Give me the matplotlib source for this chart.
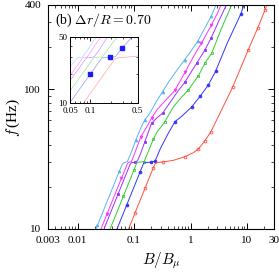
import numpy as np
import matplotlib
matplotlib.use('Agg')
import matplotlib.pyplot as plt
from matplotlib.ticker import LogLocator, NullFormatter, FixedLocator, FixedFormatter

plt.rcParams['font.family'] = 'serif'
plt.rcParams['font.serif'] = ['Liberation Serif', 'DejaVu Serif']
plt.rcParams['mathtext.fontset'] = 'cm'

# curves: B/B_mu and f (Hz)
lb_B = [0.0213, 0.0225, 0.055, 0.062, 0.066, 0.076, 0.09, 0.108, 0.13, 0.155, 0.18, 0.21, 0.25, 0.32, 0.43, 0.6, 0.79, 1.0, 1.36, 1.8, 2.35, 2.82]
lb_f = [10, 10.6, 25.9, 29.0, 29.8, 30.3, 35.5, 43.5, 52, 60.5, 65, 72, 82, 96, 116, 140, 163, 185, 222, 275, 335, 400]
lb_mk = [1, 2, 7, 9, 13, 16, 18, 20]

mag_B = [0.026, 0.033, 0.06, 0.076, 0.08, 0.09, 0.11, 0.132, 0.165, 0.204, 0.26, 0.35, 0.527, 0.8, 1.1, 1.56, 2.35, 3.0, 3.46]
mag_f = [10, 12.7, 23.1, 29.2, 30.0, 30.3, 37.5, 45.7, 53, 62, 72, 82, 98, 132, 168, 213, 288, 350, 400]
mag_mk = [1, 2, 7, 9, 12, 13, 15, 16]

pur_B = [0.0294, 0.0525, 0.085, 0.09, 0.1035, 0.115, 0.13, 0.155, 0.18, 0.204, 0.25, 0.32, 0.45, 0.6, 0.79, 1.28, 1.79, 2.3, 3.2, 4.3]
pur_f = [10, 17.9, 28.9, 29.8, 30.0, 30.8, 34.5, 42, 49.5, 57, 62, 67.3, 82, 97, 112, 153, 190, 231, 310, 400]
pur_mk = [1, 4, 7, 9, 11, 14, 15, 16, 17]

grn_B = [0.0377, 0.065, 0.1, 0.11, 0.115, 0.15, 0.18, 0.22, 0.26, 0.3, 0.351, 0.5, 0.7, 0.9, 1.37, 1.79, 2.37, 3.5, 5.35]
grn_f = [10, 17.2, 26.5, 29.2, 30.0, 30.3, 36, 44, 50, 53.5, 58.6, 75, 88, 98, 124, 153, 181, 270, 400]
grn_mk = [1, 2, 5, 7, 10, 13, 14, 15, 16]

blu_B = [0.05, 0.074, 0.099, 0.1275, 0.145, 0.15, 0.196, 0.235, 0.292, 0.4, 0.531, 0.7, 1.047, 1.49, 2.06, 2.77, 4.5, 7.82, 8.83]
blu_f = [10, 14.8, 19.8, 25.5, 29.0, 29.7, 30.1, 30.5, 37.5, 48, 58.6, 64, 74.6, 89.4, 107, 134, 215, 347, 400]
blu_mk = [1, 3, 6, 7, 10, 12, 13, 14, 15, 17]
blu_inset_mk = [2, 6, 8]

red_B = [0.08, 0.104, 0.156, 0.219, 0.235, 0.26, 0.33, 0.5, 0.8, 1.1, 1.37, 1.8, 2.3, 3.3, 5.6, 10.5, 15.4, 20.8, 22.3]
red_f = [10, 13.0, 19.5, 27.4, 29.2, 29.9, 30.2, 31.0, 32.9, 35, 37.2, 42.8, 49.7, 67, 104, 191, 273, 368, 400]
red_mk = [1, 2, 3, 6, 8, 10, 11, 12, 14, 15, 16, 17]

curves = [
    (lb_B, lb_f, lb_mk, '#55b4f5', '^', True),
    (mag_B, mag_f, mag_mk, '#ff33ff', 'v', True),
    (pur_B, pur_f, pur_mk, '#9933ff', 's', True),
    (grn_B, grn_f, grn_mk, '#33cc33', 's', False),
    (blu_B, blu_f, blu_mk, '#3333ff', 'o', True),
    (red_B, red_f, red_mk, '#ff5040', 'o', False),
]

fig = plt.figure(figsize=(2.79, 2.73), dpi=100)
ax = fig.add_axes([0.172, 0.1612, 0.810, 0.8205])

for B, f, mk, c, m, filled in curves:
    ax.plot(B, f, color=c, lw=0.7, marker=m, markevery=mk, ms=2.0,
            mfc=c if filled else 'none', mec=c, mew=0.6)

ax.set_xscale('log')
ax.set_yscale('log')
ax.set_xlim(0.003, 30)
ax.set_ylim(10, 400)
ax.xaxis.set_major_locator(FixedLocator([0.003, 0.01, 0.1, 1, 10, 30]))
ax.xaxis.set_major_formatter(FixedFormatter(['0.003', '0.01', '0.1', '1', '10', '30']))
ax.xaxis.set_minor_locator(LogLocator(base=10, subs=np.arange(2, 10), numticks=20))
ax.xaxis.set_minor_formatter(NullFormatter())
ax.yaxis.set_major_locator(FixedLocator([10, 100, 400]))
ax.yaxis.set_major_formatter(FixedFormatter(['10', '100', '400']))
ax.yaxis.set_minor_locator(LogLocator(base=10, subs=np.arange(2, 10), numticks=20))
ax.yaxis.set_minor_formatter(NullFormatter())
ax.tick_params(which='both', direction='in', top=True, right=True, labelsize=8, pad=5)
ax.tick_params(which='major', length=4, width=0.7)
ax.tick_params(which='minor', length=2, width=0.5)
for s in ax.spines.values():
    s.set_linewidth(0.8)
ax.set_xlabel(r'$B/B_\mu$', fontsize=11, labelpad=4)
ax.set_ylabel(r'$f\,$(Hz)', fontsize=11, labelpad=2)
ax.text(0.03, 0.93, r'(b) $\Delta r/R = 0.70$', transform=ax.transAxes,
        fontsize=10, va='center', ha='left')

# inset
ins = fig.add_axes([0.2509, 0.6245, 0.242, 0.2418])
for B, f, mk, c, m, filled in curves:
    ins.plot(B, f, color=c, lw=0.5, alpha=0.5)
ins.plot(np.array(blu_B)[blu_inset_mk], np.array(blu_f)[blu_inset_mk], 's',
         color='#1a1aff', ms=2.5, ls='none')
ins.set_xscale('log')
ins.set_yscale('log')
ins.set_xlim(0.05, 0.5)
ins.set_ylim(10, 50)
ins.xaxis.set_major_locator(FixedLocator([0.05, 0.1, 0.5]))
ins.xaxis.set_major_formatter(FixedFormatter(['0.05', '0.1', '0.5']))
ins.xaxis.set_minor_locator(FixedLocator([0.06, 0.07, 0.08, 0.09, 0.2, 0.3, 0.4]))
ins.xaxis.set_minor_formatter(NullFormatter())
ins.yaxis.set_major_locator(FixedLocator([10, 50]))
ins.yaxis.set_major_formatter(FixedFormatter(['10', '50']))
ins.yaxis.set_minor_locator(FixedLocator([20, 30, 40]))
ins.yaxis.set_minor_formatter(NullFormatter())
ins.tick_params(which='both', direction='in', top=True, right=True, labelsize=6.5)
ins.tick_params(axis='x', pad=3)
ins.tick_params(axis='y', pad=2)
ins.tick_params(which='major', length=3, width=0.6)
ins.tick_params(which='minor', length=1.5, width=0.5)
for s in ins.spines.values():
    s.set_linewidth(0.7)

fig.savefig('out.png', dpi=100)
